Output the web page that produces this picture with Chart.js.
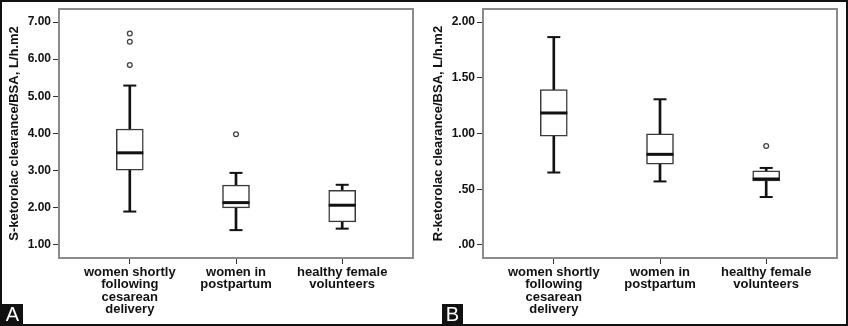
<!DOCTYPE html>
<html>
<head>
<meta charset="utf-8">
<script src="https://cdn.jsdelivr.net/npm/chart.js@4.4.1/dist/chart.umd.min.js"></script>
<style>
body { margin: 0; background: #fff; }
#wrap { position: relative; width: 848px; height: 326px; overflow: hidden; font-family: "Liberation Sans", Arial, sans-serif; }
.panel { position: absolute; top: 0; width: 424px; height: 326px; }
#frame { position: absolute; left: 0; top: 0; width: 848px; height: 326px; box-sizing: border-box; border: 2px solid #111; pointer-events: none; }
.tag { position: absolute; top: 304px; width: 21px; height: 20px; background: #111; color: #fff; font-size: 20px; line-height: 21px; text-align: center; }
</style>
</head>
<body>
<div id="wrap">
  <div class="panel" style="left:0"><canvas id="chartA"></canvas></div>
  <div class="panel" style="left:424px"><canvas id="chartB"></canvas></div>
  <div class="tag" style="left:2px">A</div>
  <div class="tag" style="left:442px">B</div>
  <div id="frame"></div>
</div>
<script>
const categories = [
    ['women shortly', 'following', 'cesarean', 'delivery'],
    ['women in', 'postpartum'],
    ['healthy female', 'volunteers']
]

// panel A: S-ketorolac
const minA = [1.90, 1.40, 1.44]
const q1A = [3.01, 2.00, 1.62]
const medA = [3.48, 2.14, 2.07]
const q3A = [4.12, 2.61, 2.47]
const maxA = [5.29, 2.94, 2.62]
const outA = [[5.84, 6.47, 6.69], [3.98], []]
const yTicksA = [1, 2, 3, 4, 5, 6, 7]
const yLabelsA = ['1.00', '2.00', '3.00', '4.00', '5.00', '6.00', '7.00']

// panel B: R-ketorolac
const minB = [0.65, 0.57, 0.43]
const q1B = [0.975, 0.724, 0.574]
const medB = [1.184, 0.813, 0.592]
const q3B = [1.393, 0.996, 0.664]
const maxB = [1.865, 1.307, 0.691]
const outB = [[], [], [0.888]]
const yTicksB = [0, 0.5, 1, 1.5, 2]
const yLabelsB = ['.00', '.50', '1.00', '1.50', '2.00']

const FONT = '"Liberation Sans", Arial, sans-serif'

const framePlugin = {
    id: 'frame',
    beforeDatasetsDraw(chart) {
        const { ctx, chartArea: a } = chart
        ctx.save()
        ctx.strokeStyle = '#8a8a8a'
        ctx.lineWidth = 2
        ctx.strokeRect(a.left, a.top, a.right - a.left, a.bottom - a.top)
        ctx.restore()
    }
}

const crearBoxplot = (id, st, yMin, yMax, yTicks, yLabels, yTitle) => {
    const whiskers = categories.map((c, i) => ({ x: i, y: [st.min[i], st.max[i]] }))
    const boxes = categories.map((c, i) => ({ x: i, y: [st.q1[i], st.q3[i]] }))
    const medians = categories.map((c, i) => ({ x: i, y: st.med[i] }))
    const caps = []
    categories.forEach((c, i) => {
        caps.push({ x: i, y: st.min[i] })
        caps.push({ x: i, y: st.max[i] })
    })
    const outliers = []
    st.out.forEach((arr, i) => arr.forEach(v => outliers.push({ x: i, y: v })))

    return new Chart(document.getElementById(id).getContext('2d'), {
        type: 'bar',
        data: {
            datasets: [
                { type: 'bar', data: whiskers, barThickness: 2, backgroundColor: '#111', grouped: false, order: 3 },
                { type: 'bar', data: boxes, barThickness: 27, backgroundColor: '#fff', borderColor: '#3a3a3a', borderWidth: 1.5, borderSkipped: false, grouped: false, order: 2 },
                { type: 'scatter', data: medians, pointStyle: 'line', pointRadius: 13.5, pointBorderWidth: 3, pointBorderColor: '#111', order: 1 },
                { type: 'scatter', data: caps, pointStyle: 'line', pointRadius: 6.5, pointBorderWidth: 2, pointBorderColor: '#111', order: 1 },
                { type: 'scatter', data: outliers, pointStyle: 'circle', pointRadius: 2.4, pointBorderWidth: 1.3, pointBorderColor: '#444', pointBackgroundColor: '#fff', order: 0 }
            ]
        },
        options: {
            responsive: true,
            maintainAspectRatio: false,
            animation: false,
            layout: { autoPadding: false, padding: { top: 9, right: 11, left: 0, bottom: 0 } },
            plugins: { legend: { display: false }, tooltip: { enabled: false } },
            scales: {
                x: {
                    type: 'linear',
                    offset: false,
                    min: -2 / 3,
                    max: 2 + 2 / 3,
                    afterBuildTicks: s => { s.ticks = categories.map((c, i) => ({ value: i })) },
                    afterFit: s => { s.height = 68; s.paddingLeft = 0; s.paddingRight = 0 },
                    border: { display: false },
                    grid: { offset: false, drawOnChartArea: false, drawTicks: true, tickLength: 6, tickColor: '#333' },
                    ticks: {
                        autoSkip: false, maxRotation: 0, padding: 2, color: '#111',
                        font: { family: FONT, size: 13, weight: 'bold', lineHeight: 0.96 },
                        callback: v => categories[Math.round(v)]
                    }
                },
                y: {
                    type: 'linear',
                    min: yMin,
                    max: yMax,
                    afterBuildTicks: s => { s.ticks = yTicks.map(v => ({ value: v })) },
                    afterFit: s => { s.width = 59; s.paddingTop = 0; s.paddingBottom = 0 },
                    border: { display: false },
                    grid: { drawOnChartArea: false, drawTicks: true, tickLength: 6, tickColor: '#333' },
                    ticks: {
                        padding: 2, color: '#111',
                        font: { family: FONT, size: 12, weight: 'bold' },
                        callback: v => yLabels[yTicks.indexOf(v)]
                    },
                    title: {
                        display: true, text: yTitle, color: '#111', padding: { top: 7, bottom: 0 },
                        font: { family: FONT, size: 13, weight: 'bold' }
                    }
                }
            }
        },
        plugins: [framePlugin]
    })
}

crearBoxplot('chartA', { min: minA, q1: q1A, med: medA, q3: q3A, max: maxA, out: outA },
    0.65, 7.35, yTicksA, yLabelsA, 'S-ketorolac clearance/BSA, L/h.m2')
crearBoxplot('chartB', { min: minB, q1: q1B, med: medB, q3: q3B, max: maxB, out: outB },
    -0.117, 2.117, yTicksB, yLabelsB, 'R-ketorolac clearance/BSA, L/h.m2')
</script>
</body>
</html>
